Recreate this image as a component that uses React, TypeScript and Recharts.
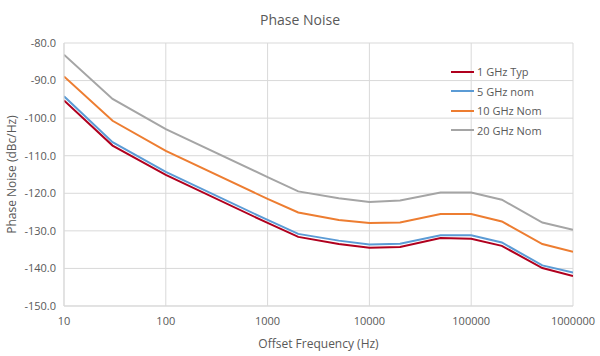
import { CartesianGrid, Line, LineChart, XAxis, YAxis } from "recharts";

const FREQS = [10, 30, 100, 1000, 2000, 5000, 10000, 20000, 50000, 100000, 200000, 500000, 1000000];

const GHZ1_TYP = [-95.3, -107.3, -115.1, -127.9, -131.6, -133.5, -134.5, -134.3, -131.9, -132.1, -134.0, -139.9, -142.0];
const GHZ5_NOM = [-94.2, -106.4, -114.3, -127.1, -130.8, -132.6, -133.6, -133.4, -131.2, -131.2, -133.1, -139.2, -141.1];
const GHZ10_NOM = [-88.9, -100.7, -108.7, -121.5, -125.1, -127.1, -127.9, -127.8, -125.5, -125.5, -127.5, -133.5, -135.6];
const GHZ20_NOM = [-83.1, -94.9, -102.9, -115.7, -119.5, -121.3, -122.3, -121.9, -119.8, -119.8, -121.7, -127.8, -129.7];

const X_TICKS = [10, 100, 1000, 10000, 100000, 1000000];
const Y_TICKS = [-150, -140, -130, -120, -110, -100, -90, -80];

const SERIES = [
  { key: "ghz1", name: "1 GHz Typ", color: "#b0001e", values: GHZ1_TYP },
  { key: "ghz5", name: "5 GHz nom", color: "#5b9bd5", values: GHZ5_NOM },
  { key: "ghz10", name: "10 GHz Nom", color: "#ed7d31", values: GHZ10_NOM },
  { key: "ghz20", name: "20 GHz Nom", color: "#a5a5a5", values: GHZ20_NOM },
];

const data = FREQS.map((f, i) => {
  const row: Record<string, number> = { f };
  SERIES.forEach((s) => {
    row[s.key] = s.values[i];
  });
  return row;
});

const FONT = "'Open Sans', sans-serif";
const TEXT = "#595959";

// legend sits inside the plot area, top right, no box
function LegendBox() {
  return (
    <div style={{ position: "absolute", top: 62, left: 451, fontFamily: FONT, fontSize: 11, color: TEXT }}>
      {SERIES.map((s) => (
        <div key={s.key} style={{ display: "flex", alignItems: "center", height: 19.5 }}>
          <span style={{ display: "inline-block", width: 23, height: 2, background: s.color, marginRight: 3 }} />
          {s.name}
        </div>
      ))}
    </div>
  );
}

export default function App() {
  return (
    <div style={{ position: "absolute", left: 0, top: 0, width: 600, height: 356, background: "#fff" }}>
      <div
        style={{
          position: "absolute",
          top: 10,
          width: 600,
          textAlign: "center",
          fontFamily: FONT,
          fontSize: 14,
          color: TEXT,
        }}
      >
        Phase Noise
      </div>
      <LineChart width={600} height={356} data={data} margin={{ top: 43, right: 27, bottom: 0, left: 0 }}>
        <CartesianGrid stroke="#d9d9d9" />
        <XAxis
          dataKey="f"
          type="number"
          scale="log"
          domain={[10, 1000000]}
          ticks={X_TICKS}
          tickFormatter={(v) => String(v)}
          tickLine={false}
          tickMargin={5}
          axisLine={{ stroke: "#d9d9d9" }}
          tick={{ fill: TEXT, fontSize: 11, fontFamily: FONT }}
          height={50}
          allowDataOverflow
          label={{ value: "Offset Frequency (Hz)", position: "insideBottom", offset: 8, fill: TEXT, fontSize: 12, fontFamily: FONT }}
        />
        <YAxis
          type="number"
          domain={[-150, -80]}
          ticks={Y_TICKS}
          tickFormatter={(v) => Number(v).toFixed(1)}
          tickLine={false}
          axisLine={{ stroke: "#d9d9d9" }}
          tick={{ fill: TEXT, fontSize: 11, fontFamily: FONT }}
          width={64}
          label={{
            value: "Phase Noise (dBc/Hz)",
            angle: -90,
            position: "insideLeft",
            offset: 12,
            style: { textAnchor: "middle" },
            fill: TEXT,
            fontSize: 12,
            fontFamily: FONT,
          }}
        />
        {SERIES.map((s) => (
          <Line
            key={s.key}
            dataKey={s.key}
            name={s.name}
            stroke={s.color}
            strokeWidth={2}
            dot={false}
            isAnimationActive={false}
          />
        ))}
      </LineChart>
      <LegendBox />
    </div>
  );
}
